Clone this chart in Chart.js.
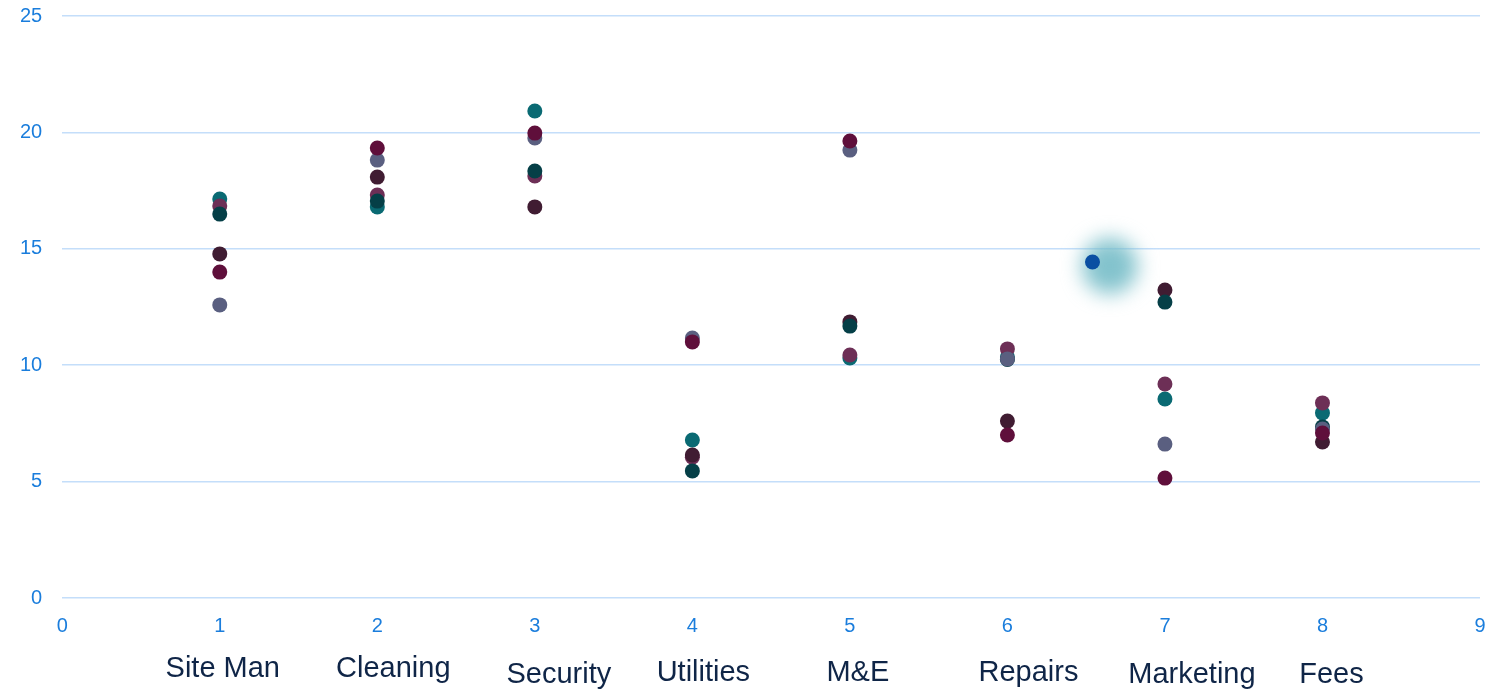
<!DOCTYPE html>
<html>
<head>
<meta charset="utf-8">
<title>Cost spread by category</title>
<script src="https://cdn.jsdelivr.net/npm/chart.js@4"></script>
<style>
  html, body { margin: 0; padding: 0; background: #fff; }
  #frame { position: relative; width: 1494px; height: 693px; overflow: hidden; }
  /* slightly oversized canvas so the plot reaches the top and right edges */
  #wrap { position: absolute; left: 0; top: -12px; width: 1508px; height: 705px; }
</style>
</head>
<body>
<div id="frame"><div id="wrap"><canvas id="costChart"></canvas></div></div>
<script>
// categories sit at x = 1..8
const categories = ['Site Man', 'Cleaning', 'Security', 'Utilities', 'M&E', 'Repairs', 'Marketing', 'Fees'];
const xPositions = [1, 2, 3, 4, 5, 6, 7, 8];

// one value per category for each series
const seriesCrimson  = [14.0, 19.33, 19.97, 11.0, 19.63, 7.0, 5.15, 7.09];
const seriesSlate    = [12.59, 18.81, 19.76, 11.17, 19.24, 10.27, 6.61, 7.26];
const seriesDarkTeal = [16.49, 17.05, 18.34, 5.46, 11.68, 10.25, 12.71, 7.35];
const seriesPlum     = [14.78, 18.08, 16.8, 6.14, 11.86, 7.6, 13.23, 6.7];
const seriesMagenta  = [16.84, 17.31, 18.13, 6.05, 10.44, 10.7, 9.19, 8.38];
const seriesTeal     = [17.14, 16.8, 20.92, 6.79, 10.31, 10.35, 8.55, 7.95];

// the single highlighted point and its hover halo
const highlightX = [6.54];
const highlightY = [14.43];
const haloX = [6.65];
const haloY = [14.26];

const yTicks = [0, 5, 10, 15, 20, 25];

const toPoints = (xs, ys) => xs.map((x, i) => ({ x: x, y: ys[i] }));

// small horizontal / vertical nudges for the category captions
const captionShiftX = [3, 16, 24, 11, 8, 21, 27, 9];
const captionShiftY = [0, 0, 6, 4, 4, 4, 6, 6];

const haloPlugin = {
    id: 'haloBlur',
    beforeDatasetDraw(chart, args) {
        if (chart.data.datasets[args.index].isHalo) {
            chart.ctx.save();
            chart.ctx.filter = 'blur(10px)';
        }
    },
    afterDatasetDraw(chart, args) {
        if (chart.data.datasets[args.index].isHalo) {
            chart.ctx.restore();
        }
    }
};

const captionPlugin = {
    id: 'categoryCaptions',
    afterDraw(chart) {
        const ctx = chart.ctx;
        const xs = chart.scales.x;
        const base = chart.chartArea.bottom + 71;
        ctx.save();
        ctx.fillStyle = '#0f2547';
        ctx.font = '29px "Liberation Sans", Arial, sans-serif';
        ctx.textAlign = 'center';
        ctx.textBaseline = 'middle';
        categories.forEach((name, i) => {
            ctx.fillText(name, xs.getPixelForValue(xPositions[i]) + captionShiftX[i], base + captionShiftY[i]);
        });
        ctx.restore();
    }
};

function dotSet(label, values, color, order) {
    return {
        label: label,
        data: toPoints(xPositions, values),
        backgroundColor: color,
        borderWidth: 0,
        pointRadius: 7.5,
        pointHoverRadius: 7.5,
        order: order
    };
}

// let the layout padding alone decide the plot edges
function dropEdgePadding(scale) {
    scale.paddingTop = 0;
    scale.paddingBottom = 0;
    scale.paddingLeft = 0;
    scale.paddingRight = 0;
}

const tickBlue = '#1a7ddc';
const gridBlue = '#c4defa';

new Chart(document.getElementById('costChart'), {
    type: 'scatter',
    data: {
        datasets: [
            dotSet('Crimson', seriesCrimson, '#5f0f3b', 1),
            dotSet('Slate', seriesSlate, '#5a5f80', 2),
            dotSet('Dark teal', seriesDarkTeal, '#053f47', 3),
            dotSet('Plum', seriesPlum, '#401c32', 4),
            dotSet('Magenta', seriesMagenta, '#6d2f56', 5),
            dotSet('Teal', seriesTeal, '#0a6a73', 6),
            {
                label: 'Highlight',
                data: toPoints(highlightX, highlightY),
                backgroundColor: '#0a4fa2',
                borderWidth: 0,
                pointRadius: 7.5,
                order: 0
            },
            {
                label: 'Halo',
                isHalo: true,
                data: toPoints(haloX, haloY),
                backgroundColor: 'rgba(118, 188, 200, 0.9)',
                borderWidth: 0,
                pointRadius: 28,
                order: 7
            }
        ]
    },
    options: {
        responsive: true,
        maintainAspectRatio: false,
        animation: false,
        layout: {
            padding: { top: 3, right: 0, bottom: 47, left: 0 }
        },
        plugins: {
            legend: { display: false },
            tooltip: { enabled: false }
        },
        scales: {
            x: {
                type: 'linear',
                min: 0,
                max: 9,
                afterFit: dropEdgePadding,
                grid: { display: false },
                border: { display: false },
                ticks: {
                    stepSize: 1,
                    color: tickBlue,
                    padding: 8,
                    font: { family: '"Liberation Sans", Arial, sans-serif', size: 20 }
                }
            },
            y: {
                min: 0,
                max: 25,
                afterBuildTicks(scale) {
                    scale.ticks = yTicks.map(v => ({ value: v }));
                },
                afterFit: dropEdgePadding,
                grid: { color: gridBlue, lineWidth: 1.5, drawTicks: false },
                border: { display: false },
                ticks: {
                    color: tickBlue,
                    padding: 20,
                    font: { family: '"Liberation Sans", Arial, sans-serif', size: 20 }
                }
            }
        }
    },
    plugins: [haloPlugin, captionPlugin]
});
</script>
</body>
</html>
